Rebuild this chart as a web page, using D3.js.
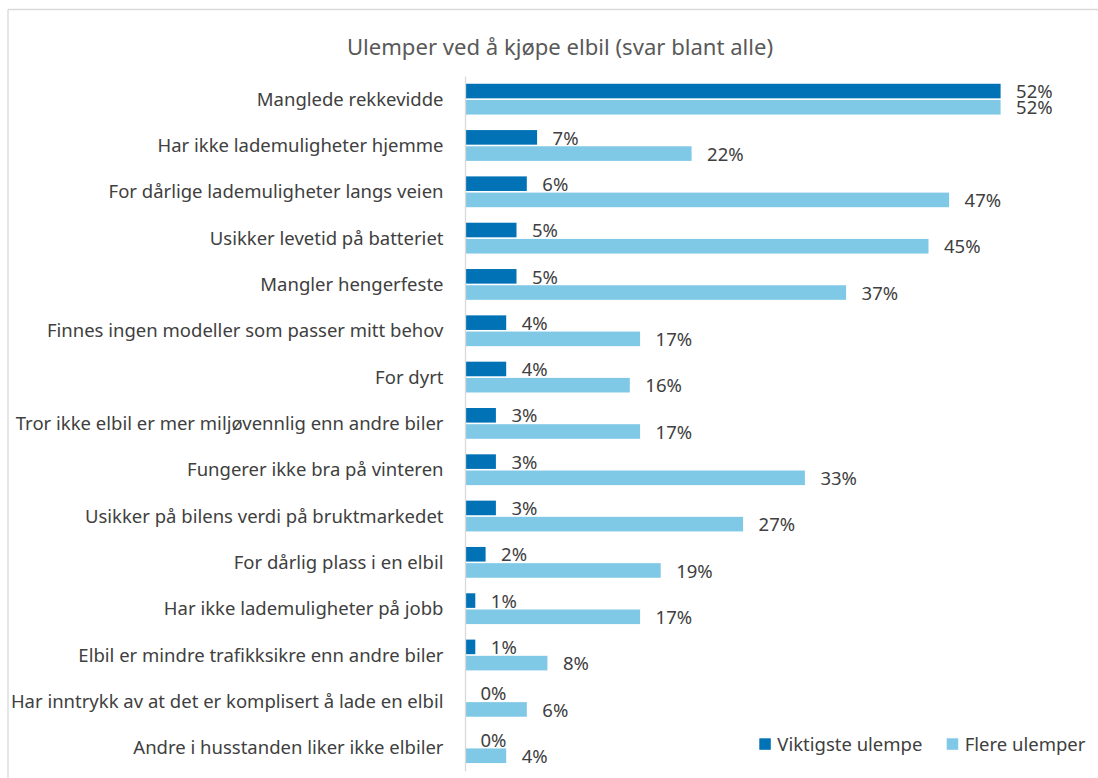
<!DOCTYPE html>
<html>
<head>
<meta charset="utf-8">
<script src="https://cdn.jsdelivr.net/npm/d3@7"></script>
<style>
  html, body { margin: 0; padding: 0; background: #ffffff; }
  svg { display: block; }
  text { font-family: "Noto Sans", "Open Sans", sans-serif; }
</style>
</head>
<body>
<svg id="chart" width="1098" height="778"></svg>
<script>
// Survey answers: disadvantages of buying an electric car (share of all respondents, %)
const categories = [
  "Manglede rekkevidde",
  "Har ikke lademuligheter hjemme",
  "For dårlige lademuligheter langs veien",
  "Usikker levetid på batteriet",
  "Mangler hengerfeste",
  "Finnes ingen modeller som passer mitt behov",
  "For dyrt",
  "Tror ikke elbil er mer miljøvennlig enn andre biler",
  "Fungerer ikke bra på vinteren",
  "Usikker på bilens verdi på bruktmarkedet",
  "For dårlig plass i en elbil",
  "Har ikke lademuligheter på jobb",
  "Elbil er mindre trafikksikre enn andre biler",
  "Har inntrykk av at det er komplisert å lade en elbil",
  "Andre i husstanden liker ikke elbiler"
];
const viktigsteUlempe = [52, 7, 6, 5, 5, 4, 4, 3, 3, 3, 2, 1, 1, 0, 0];
const flereUlemper    = [52, 22, 47, 45, 37, 17, 16, 17, 33, 27, 19, 17, 8, 6, 4];
const seriesNames = ["Viktigste ulempe", "Flere ulemper"];
const seriesColors = ["#0072b5", "#7fc8e6"];
const title = "Ulemper ved å kjøpe elbil (svar blant alle)";

const svg = d3.select("#chart");
const textColor = "#404040";
const fontSize = 18.5;

// Outer frame (top and left edges)
svg.append("line").attr("x1", 8).attr("x2", 1098).attr("y1", 9.5).attr("y2", 9.5)
  .attr("stroke", "#d9d9d9").attr("stroke-width", 1.3);
svg.append("line").attr("x1", 8).attr("x2", 8).attr("y1", 9.5).attr("y2", 778)
  .attr("stroke", "#d9d9d9").attr("stroke-width", 1.3);

// Title
svg.append("text")
  .attr("x", 560).attr("y", 54.5)
  .attr("text-anchor", "middle")
  .attr("font-size", 22.1)
  .attr("fill", "#595959")
  .text(title);

// Scales
const x0 = 465;
const x = d3.scaleLinear().domain([0, 55]).range([x0, x0 + 55 * 10.3]);
const y = d3.scaleBand().domain(categories).range([76, 770.8]);
const groupH = 30.8;
const yInner = d3.scaleBand()
  .domain(seriesNames)
  .range([(y.bandwidth() - groupH) / 2, (y.bandwidth() + groupH) / 2])
  .paddingInner(0.1);

const rows = categories.map((c, i) => ({
  cat: c,
  values: [
    { key: seriesNames[0], v: viktigsteUlempe[i], color: seriesColors[0] },
    { key: seriesNames[1], v: flereUlemper[i], color: seriesColors[1] }
  ]
}));

// Bars
const groups = svg.append("g").selectAll("g.row")
  .data(rows).join("g")
  .attr("class", "row")
  .attr("transform", d => `translate(0,${y(d.cat)})`);

groups.selectAll("rect")
  .data(d => d.values).join("rect")
  .attr("x", x(0))
  .attr("y", d => yInner(d.key))
  .attr("width", d => x(d.v) - x(0))
  .attr("height", yInner.bandwidth())
  .attr("fill", d => d.color);

// Value labels
groups.selectAll("text.val")
  .data(d => d.values).join("text")
  .attr("class", "val")
  .attr("x", d => x(d.v) + 15.5)
  .attr("y", d => yInner(d.key) + yInner.bandwidth() / 2 + 7.2)
  .attr("font-size", fontSize)
  .attr("fill", textColor)
  .text(d => d3.format(".0f")(d.v) + "%");

// Category axis
const yAxis = d3.axisLeft(y).tickSize(0).tickSizeOuter(0).tickPadding(21.5);
const axisG = svg.append("g")
  .attr("transform", `translate(${x0},0)`)
  .call(yAxis);
axisG.select(".domain").attr("stroke", "#d9d9d9").attr("stroke-width", 1.3);
axisG.selectAll(".tick text")
  .attr("font-size", fontSize)
  .attr("font-family", "\"Noto Sans\", \"Open Sans\", sans-serif")
  .attr("fill", textColor)
  .attr("dy", "0.36em");

// Legend
const legendPos = [759.3, 946.7];
const legend = svg.append("g").selectAll("g")
  .data(seriesNames).join("g")
  .attr("transform", (d, i) => `translate(${legendPos[i]},738.3)`);
legend.append("rect")
  .attr("width", 11.5).attr("height", 11.5)
  .attr("fill", (d, i) => seriesColors[i]);
legend.append("text")
  .attr("x", 18).attr("y", 12.7)
  .attr("font-size", fontSize)
  .attr("fill", textColor)
  .text(d => d);
</script>
</body>
</html>
